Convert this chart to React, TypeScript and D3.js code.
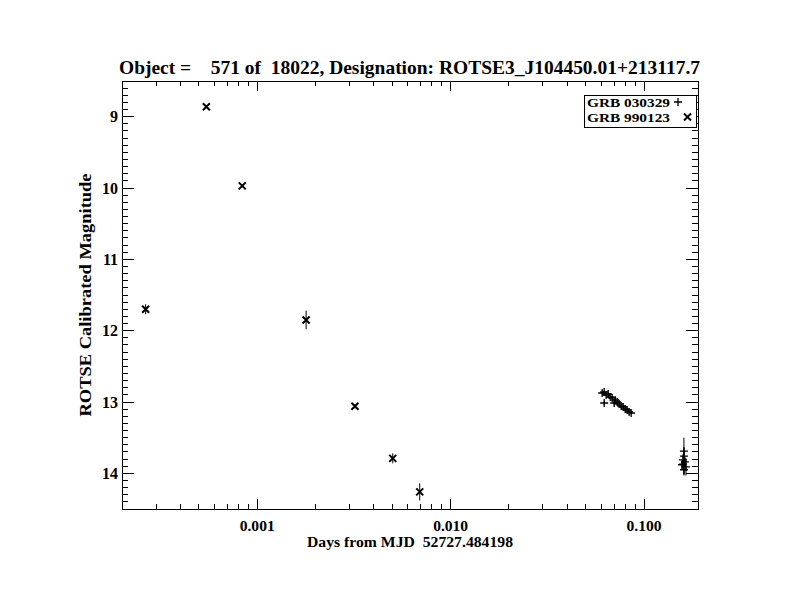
import React from "react";
import * as d3 from "d3";

// GRB 990123 template light curve (× symbols)
const tplDays = [0.000265, 0.000546, 0.000837, 0.00179, 0.0032, 0.00502, 0.00692];
const tplMag = [11.70, 8.86, 9.97, 11.85, 13.06, 13.79, 14.26];
const tplErr = [0.07, 0.02, 0.02, 0.13, 0.03, 0.07, 0.12];

// Object data (GRB 030329, + symbols)
const objDays = [
  0.06073, 0.0622, 0.06369, 0.06522, 0.0622, 0.06679, 0.06841, 0.07005, 0.07088,
  0.07258, 0.07432, 0.0761, 0.07795, 0.07982, 0.08174, 0.0837, 0.0857,
  0.1607, 0.1607, 0.159, 0.1626, 0.1571, 0.1646, 0.1607, 0.159,
];
const objMag = [
  12.874, 12.86, 12.902, 12.888, 13.014, 12.93, 12.944, 13.014, 12.972,
  13.0, 13.028, 13.056, 13.07, 13.098, 13.112, 13.14, 13.154,
  13.69, 13.76, 13.81, 13.84, 13.88, 13.91, 13.95, 13.87,
];
const objErr = [
  0.02, 0.02, 0.02, 0.02, 0.03, 0.02, 0.02, 0.03, 0.02,
  0.02, 0.02, 0.02, 0.02, 0.02, 0.02, 0.02, 0.02,
  0.05, 0.26, 0.08, 0.08, 0.06, 0.12, 0.08, 0.06,
];

const xMajor = [0.001, 0.01, 0.1];
const xMajorLabels = ["0.001", "0.010", "0.100"];
const yMajor = [9, 10, 11, 12, 13, 14];

const titleText = "Object =    571 of  18022, Designation: ROTSE3_J104450.01+213117.7";
const xTitle = "Days from MJD  52727.484198";
const yTitle = "ROTSE Calibrated Magnitude";
const legendLabels = ["GRB 030329", "GRB 990123"];

export default function App() {
  const L = 122, R = 698, T = 81, B = 509;
  const x = d3.scaleLog().domain([2e-4, 0.19]).range([L, R]);
  const y = d3.scaleLinear().domain([8.5, 14.5]).range([T, B]);

  const xMinor: number[] = [];
  for (const dec of [1e-4, 1e-3, 1e-2, 1e-1]) {
    for (let k = 2; k <= 9; k++) {
      const v = dec * k;
      if (v > 2e-4 * 1.0001 && v < 0.19 && !xMajor.some((m) => Math.abs(m - v) < 1e-9)) xMinor.push(v);
    }
  }
  const yMinor: number[] = d3.range(85, 146).map((i) => i / 10).filter((v) => Math.abs(v - Math.round(v)) > 1e-6);

  const font = "'Liberation Serif', 'DejaVu Serif', serif";
  const majX = 10, minX = 5, majY = 12, minY = 6;
  const s = 3.5;

  return (
    <svg width={792} height={612} style={{ position: "absolute", left: 0, top: 0, background: "#fff" }}
      fontFamily={font} fontWeight="bold">
      <rect x={0} y={0} width={792} height={612} fill="#fff" />
      <g stroke="#000" strokeWidth={1} shapeRendering="crispEdges" fill="none">
        <rect x={L} y={T} width={R - L} height={B - T} />
        {xMajor.map((v, i) => (
          <g key={"xm" + i}>
            <line x1={x(v)} x2={x(v)} y1={B} y2={B - majX} />
            <line x1={x(v)} x2={x(v)} y1={T} y2={T + majX} />
          </g>
        ))}
        {xMinor.map((v, i) => (
          <g key={"xn" + i}>
            <line x1={x(v)} x2={x(v)} y1={B} y2={B - minX} />
            <line x1={x(v)} x2={x(v)} y1={T} y2={T + minX} />
          </g>
        ))}
        {yMajor.map((v, i) => (
          <g key={"ym" + i}>
            <line x1={L} x2={L + majY} y1={y(v)} y2={y(v)} />
            <line x1={R} x2={R - majY} y1={y(v)} y2={y(v)} />
          </g>
        ))}
        {yMinor.map((v, i) => (
          <g key={"yn" + i}>
            <line x1={L} x2={L + minY} y1={y(v)} y2={y(v)} />
            <line x1={R} x2={R - minY} y1={y(v)} y2={y(v)} />
          </g>
        ))}
      </g>
      <g fill="#000">
        {xMajor.map((v, i) => (
          <text key={"xl" + i} x={x(v)} y={530.5} textAnchor="middle" fontSize={14}
            textLength={35} lengthAdjust="spacingAndGlyphs">{xMajorLabels[i]}</text>
        ))}
        {yMajor.map((v, i) => (
          <text key={"yl" + i} x={118} y={y(v) + 5.5} textAnchor="end" fontSize={16}>{String(v)}</text>
        ))}
        <text x={(L + R) / 2} y={547} textAnchor="middle" fontSize={14} style={{ whiteSpace: "pre" }}
          textLength={206} lengthAdjust="spacingAndGlyphs">{xTitle}</text>
        <text transform={`translate(91,${(T + B) / 2}) rotate(-90)`} textAnchor="middle" fontSize={16}
          textLength={243} lengthAdjust="spacingAndGlyphs">{yTitle}</text>
      </g>
      <text x={119} y={74} fontSize={19} fill="#000" style={{ whiteSpace: "pre" }}
        textLength={581} lengthAdjust="spacingAndGlyphs">
        {titleText}
      </text>
      {/* Template points */}
      <g stroke="#000" fill="none">
        {tplDays.map((d, i) => {
          const cx = x(d), cy = y(tplMag[i]);
          return (
            <g key={"t" + i}>
              <line x1={cx} x2={cx} y1={y(tplMag[i] - tplErr[i])} y2={y(tplMag[i] + tplErr[i])} strokeWidth={1} />
              <path d={`M${cx - s},${cy - s}L${cx + s},${cy + s}M${cx - s},${cy + s}L${cx + s},${cy - s}`} strokeWidth={2} />
            </g>
          );
        })}
        {objDays.map((d, i) => {
          const cx = x(d), cy = y(objMag[i]);
          return (
            <g key={"o" + i}>
              <line x1={cx} x2={cx} y1={y(objMag[i] - objErr[i])} y2={y(objMag[i] + objErr[i])} strokeWidth={1} />
              <path d={`M${cx - 4},${cy}L${cx + 4},${cy}M${cx},${cy - 4}L${cx},${cy + 4}`} strokeWidth={1.3} />
            </g>
          );
        })}
      </g>
      {/* Legend */}
      <g>
        <rect x={584} y={95} width={112} height={32} fill="#fff" stroke="#000" strokeWidth={1} shapeRendering="crispEdges" />
        <text x={587} y={107} fontSize={13} fill="#000" textLength={83} lengthAdjust="spacingAndGlyphs">{legendLabels[0]}</text>
        <text x={587} y={122} fontSize={13} fill="#000" textLength={83} lengthAdjust="spacingAndGlyphs">{legendLabels[1]}</text>
        <path d="M674,102L682,102M678,98L678,106" stroke="#000" strokeWidth={1.3} />
        <path d="M684,113.5L691,120.5M684,120.5L691,113.5" stroke="#000" strokeWidth={2} />
      </g>
    </svg>
  );
}
